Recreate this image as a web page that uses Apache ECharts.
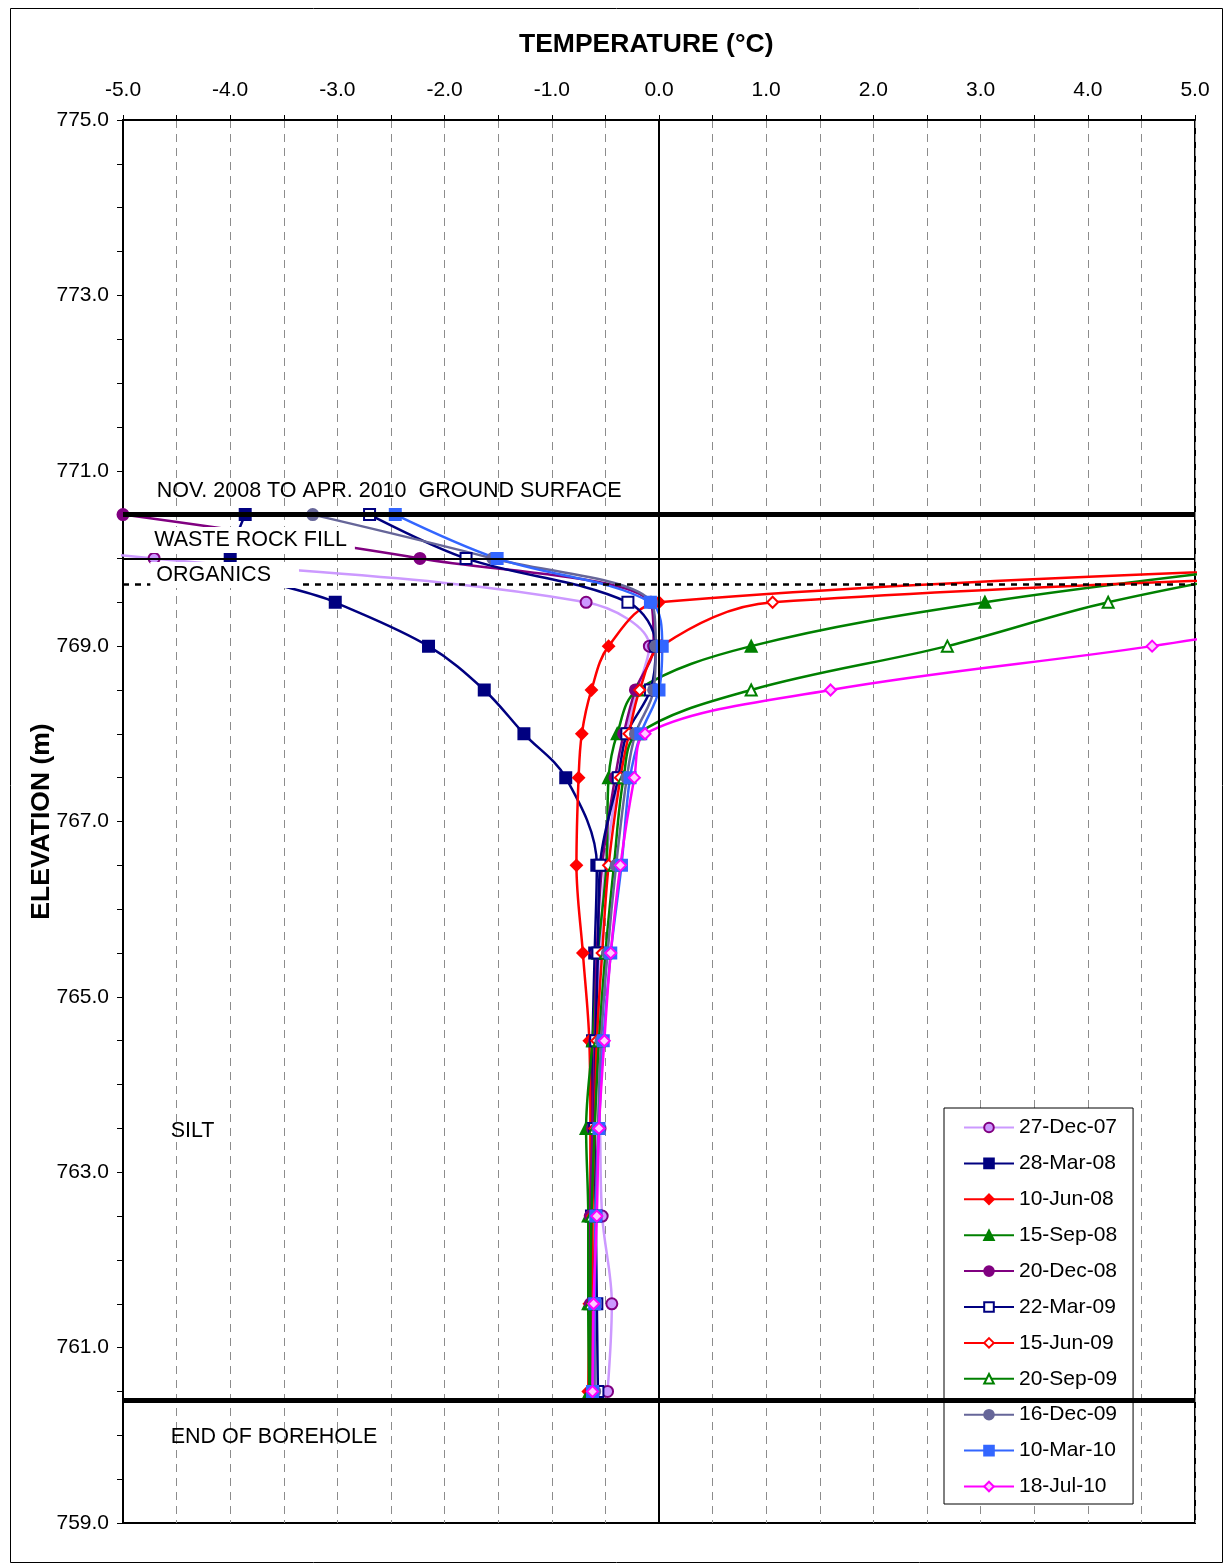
<!DOCTYPE html>
<html>
<head>
<meta charset="utf-8">
<script src="https://cdn.jsdelivr.net/npm/echarts@6/dist/echarts.min.js"></script>
<style>
  html, body { margin: 0; padding: 0; background: #fff; }
  #chart { width: 1228px; height: 1566px; }
</style>
</head>
<body>
<div id="chart"></div>
<script>
// elevations of the thermistor beads (m)
const elevations = [770.5, 770.0, 769.5, 769.0, 768.5, 768.0, 767.5, 766.5, 765.5, 764.5, 763.5, 762.5, 761.5, 760.5];

// temperatures (°C) per reading date, same order as elevations (null = no reading)
const t27Dec07 = [-9.0, -4.71, -0.68, -0.09, -0.20, -0.31, -0.38, -0.50, -0.55, -0.57, -0.55, -0.53, -0.44, -0.48];
const t28Mar08 = [-3.86, -4.00, -3.02, -2.15, -1.63, -1.26, -0.87, -0.58, -0.60, -0.62, -0.63, -0.63, -0.61, -0.61];
const t10Jun08 = [null, 9.0, 0.00, -0.47, -0.63, -0.72, -0.75, -0.77, -0.71, -0.65, -0.64, -0.64, -0.65, -0.66];
const t15Sep08 = [null, 6.3, 3.04, 0.86, -0.20, -0.39, -0.47, -0.49, -0.57, -0.62, -0.68, -0.66, -0.66, -0.65];
const t20Dec08 = [-5.0, -2.23, -0.08, -0.05, -0.22, -0.33, -0.41, -0.53, -0.58, -0.60, -0.62, -0.64, -0.64, -0.63];
const t22Mar09 = [-2.70, -1.80, -0.29, -0.03, -0.08, -0.30, -0.38, -0.55, -0.57, -0.59, -0.60, -0.59, -0.58, -0.57];
const t15Jun09 = [null, 12.0, 1.06, 0.02, -0.18, -0.28, -0.36, -0.47, -0.53, -0.58, -0.60, -0.62, -0.62, -0.63];
const t20Sep09 = [null, 6.3, 4.19, 2.69, 0.86, -0.20, -0.33, -0.42, -0.50, -0.56, -0.60, -0.63, -0.64, -0.64];
const t16Dec09 = [-3.23, -1.55, -0.07, -0.03, -0.05, -0.22, -0.30, -0.40, -0.48, -0.54, -0.57, -0.59, -0.60, -0.60];
const t10Mar10 = [-2.46, -1.51, -0.08, 0.03, 0.00, -0.17, -0.27, -0.35, -0.45, -0.52, -0.56, -0.59, -0.60, -0.62];
const t18Jul10 = [null, null, 7.1, 4.60, 1.60, -0.13, -0.23, -0.36, -0.45, -0.51, -0.56, -0.58, -0.61, -0.62];

// stratigraphy levels (m)
const groundSurface = 770.5;
const fillBase = 770.0;
const organicsBase = 769.7;
const endOfBorehole = 760.4;

// axis ranges
const tempMin = -5, tempMax = 5, tempStep = 0.5;
const elevMin = 759, elevMax = 775, elevStep = 0.5;

const FONT = '"Liberation Sans", Arial, sans-serif';

const chart = echarts.init(document.getElementById('chart'));

function pairs(temps) {
  const out = [];
  temps.forEach((t, i) => { if (t !== null) out.push([t, elevations[i]]); });
  return out;
}

// one line series per reading date
function profile(name, temps, color, symbol, fill, border) {
  return {
    name: name,
    type: 'line',
    data: pairs(temps),
    smooth: 0.35,
    clip: true,
    z: 3,
    symbol: symbol,
    symbolSize: 11,
    lineStyle: { color: color, width: 2.5 },
    itemStyle: { color: fill, borderColor: border, borderWidth: 2 },
    emphasis: { disabled: true },
    animation: false
  };
}

const series = [
  profile('27-Dec-07', t27Dec07, '#CC99FF', 'circle', '#CC99FF', '#800080'),
  profile('28-Mar-08', t28Mar08, '#000080', 'rect', '#000080', '#000080'),
  profile('10-Jun-08', t10Jun08, '#FF0000', 'diamond', '#FF0000', '#FF0000'),
  profile('15-Sep-08', t15Sep08, '#008000', 'triangle', '#008000', '#008000'),
  profile('20-Dec-08', t20Dec08, '#800080', 'circle', '#800080', '#800080'),
  profile('22-Mar-09', t22Mar09, '#000080', 'rect', '#FFFFFF', '#000080'),
  profile('15-Jun-09', t15Jun09, '#FF0000', 'diamond', '#FFFFFF', '#FF0000'),
  profile('20-Sep-09', t20Sep09, '#008000', 'triangle', '#FFFFFF', '#008000'),
  profile('16-Dec-09', t16Dec09, '#666699', 'circle', '#666699', '#666699'),
  profile('10-Mar-10', t10Mar10, '#3366FF', 'rect', '#3366FF', '#3366FF'),
  profile('18-Jul-10', t18Jul10, '#FF00FF', 'diamond', '#FFCCFF', '#FF00FF')
];

// reference lines: 0 °C and layer boundaries
series.push({
  name: 'levels',
  type: 'line',
  data: [],
  z: 1,
  silent: true,
  animation: false,
  markLine: {
    symbol: 'none',
    silent: true,
    animation: false,
    label: { show: false },
    emphasis: { disabled: true },
    data: [
      { xAxis: 0, lineStyle: { color: '#000', width: 2, type: 'solid' } },
      { yAxis: groundSurface, lineStyle: { color: '#000', width: 5, type: 'solid' } },
      { yAxis: fillBase, lineStyle: { color: '#000', width: 2, type: 'solid' } },
      { yAxis: organicsBase, lineStyle: { color: '#000', width: 2.5, type: [6, 6] } },
      { yAxis: endOfBorehole, lineStyle: { color: '#000', width: 5, type: 'solid' } }
    ]
  }
});

// layer labels
function note(text, x, y, boxed, padRight) {
  return {
    coord: [x, y],
    symbol: 'rect',
    symbolSize: 1,
    itemStyle: { color: 'rgba(0,0,0,0)' },
    label: {
      show: true,
      position: 'right',
      distance: 0,
      formatter: text,
      color: '#000',
      fontFamily: FONT,
      fontSize: 21.5,
      backgroundColor: boxed ? '#fff' : 'transparent',
      padding: boxed ? [2, padRight, 2, 6] : 0
    }
  };
}

series.push({
  name: 'notes',
  type: 'line',
  data: [],
  z: 10,
  silent: true,
  animation: false,
  markPoint: {
    silent: true,
    animation: false,
    data: [
      note('NOV. 2008 TO APR. 2010  GROUND SURFACE', -4.69, 770.77, false),
      note('WASTE ROCK FILL', -4.77, 770.21, true, 8),
      note('ORGANICS', -4.75, 769.81, true, 28),
      note('SILT', -4.56, 763.47, false),
      note('END OF BOREHOLE', -4.56, 759.98, false)
    ]
  }
});

const option = {
  backgroundColor: '#fff',
  textStyle: { fontFamily: FONT },
  graphic: [
    { type: 'rect', left: 8, top: 6, shape: { width: 1212, height: 1554 },
      style: { fill: 'none', stroke: '#000', lineWidth: 1 }, z: -1 },
    { type: 'text', left: 519, top: 31,
      style: { text: 'TEMPERATURE (°C)', font: 'bold 26.5px ' + FONT, fill: '#000' } }
  ],
  grid: {
    left: 123, top: 120, width: 1072, height: 1403,
    show: true, borderColor: '#000', borderWidth: 2, backgroundColor: 'transparent'
  },
  legend: {
    data: series.slice(0, 11).map(s => s.name),
    orient: 'vertical',
    left: 944,
    top: 1108,
    backgroundColor: '#fff',
    borderColor: '#000',
    borderWidth: 1,
    padding: [9, 16, 7, 19],
    itemWidth: 50,
    itemHeight: 12,
    itemGap: 14.9,
    selectedMode: false,
    textStyle: { fontFamily: FONT, fontSize: 21, color: '#000', lineHeight: 20 }
  },
  xAxis: {
    type: 'value',
    position: 'top',
    min: tempMin,
    max: tempMax,
    interval: tempStep,
    axisLine: { show: true, onZero: false, lineStyle: { color: '#000', width: 2 } },
    axisTick: { show: true, inside: false, length: 5, lineStyle: { color: '#000' } },
    axisLabel: {
      interval: 0,
      margin: 19,
      fontSize: 21,
      color: '#000',
      fontFamily: FONT,
      formatter: v => (Math.abs(v - Math.round(v)) < 1e-9 ? v.toFixed(1) : '')
    },
    splitLine: { show: true, lineStyle: { color: '#8c8c8c', width: 1, type: [8, 6] } }
  },
  yAxis: {
    type: 'value',
    min: elevMin,
    max: elevMax,
    interval: elevStep,
    name: 'ELEVATION (m)',
    nameLocation: 'middle',
    nameGap: 68,
    nameRotate: 90,
    nameMoveOverlap: false,
    nameTextStyle: { fontFamily: FONT, fontSize: 26.5, fontWeight: 'bold', color: '#000' },
    axisLine: { show: true, onZero: false, lineStyle: { color: '#000', width: 2 } },
    axisTick: { show: true, inside: false, length: 6, lineStyle: { color: '#000' } },
    axisLabel: {
      interval: 0,
      margin: 14,
      fontSize: 21,
      color: '#000',
      fontFamily: FONT,
      formatter: v => (Math.abs((v - elevMin) % 2) < 1e-9 ? v.toFixed(1) : '')
    },
    splitLine: { show: false }
  },
  series: series
};

chart.setOption(option);
</script>
</body>
</html>
